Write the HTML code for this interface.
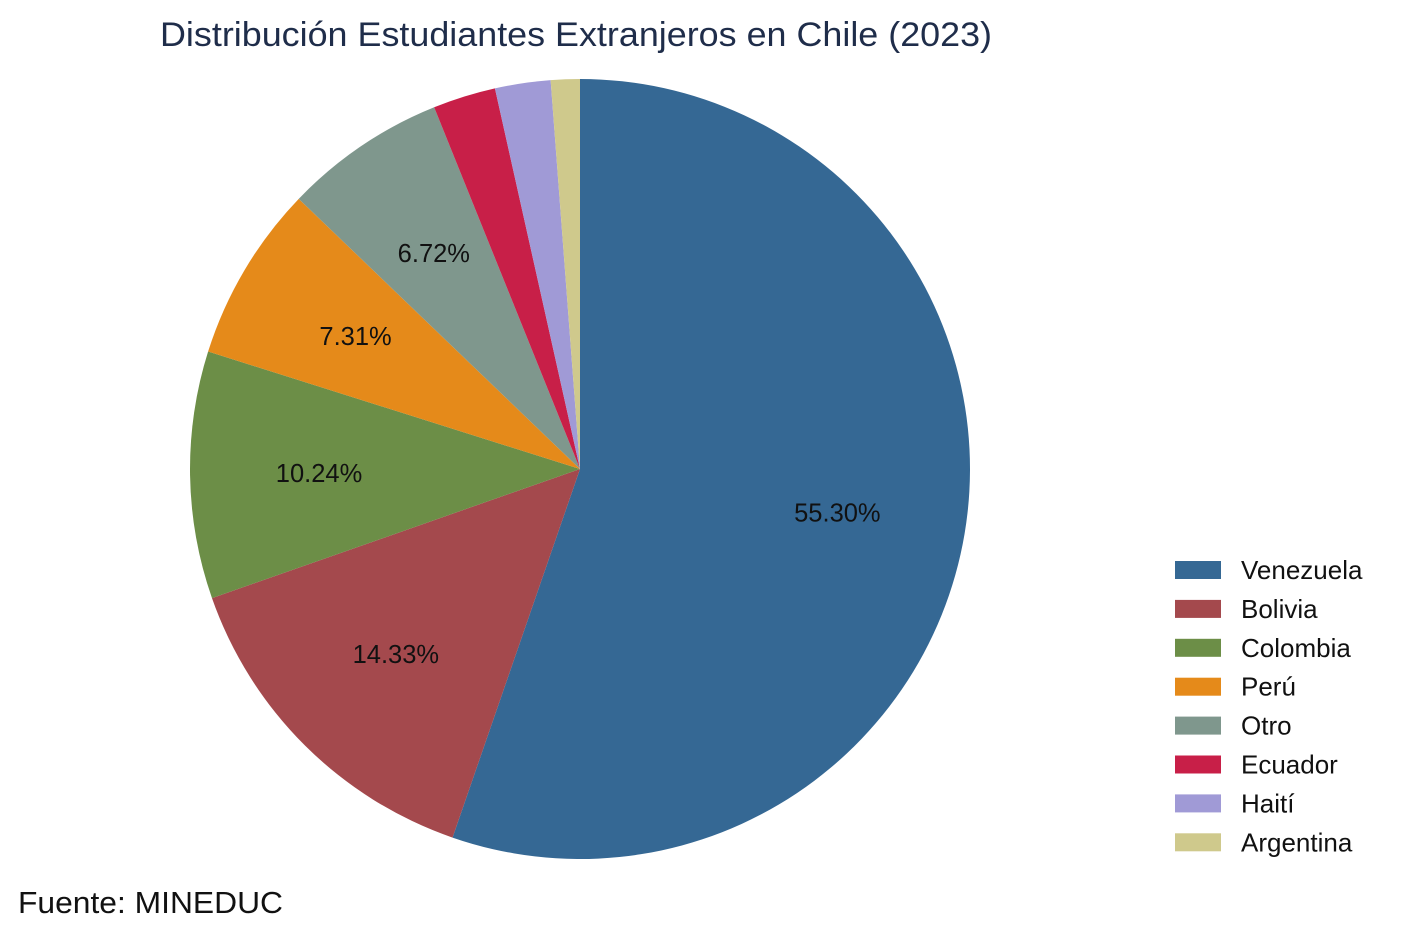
<!DOCTYPE html>
<html><head><meta charset="utf-8">
<style>
html,body{margin:0;padding:0;background:#fff;}
body{width:1404px;height:936px;overflow:hidden;font-family:"Liberation Sans",Arial,sans-serif;}
</style></head>
<body>
<svg id="chart" width="1404" height="936" viewBox="0 0 1404 936" xmlns="http://www.w3.org/2000/svg">
<text x="160" y="46" textLength="832" lengthAdjust="spacingAndGlyphs" font-size="34" fill="#1f2d4a" font-family="Liberation Sans, sans-serif">Distribución Estudiantes Extranjeros en Chile (2023)</text>
<g id="slices"></g>
<g id="labels"></g>
<g id="legend"></g>
<text x="18" y="913" textLength="265" lengthAdjust="spacingAndGlyphs" font-size="31" fill="#111" font-family="Liberation Sans, sans-serif">Fuente: MINEDUC</text>
</svg>
<script>
const categories = ["Venezuela","Bolivia","Colombia","Perú","Otro","Ecuador","Haití","Argentina"];
const values = [55.30,14.33,10.24,7.31,6.72,2.6,2.3,1.2];
const colors = ["#356894","#a4494d","#6c8e47","#e58a1a","#7f978d","#c81f48","#a09ad6","#cfc98c"];
const NS="http://www.w3.org/2000/svg";
const cx=580, cy=469, r=390, lr=261;
const total=values.reduce((a,b)=>a+b,0);
const gS=document.getElementById('slices'), gL=document.getElementById('labels'), gLeg=document.getElementById('legend');
function pt(a,rad){return [cx+rad*Math.sin(a), cy-rad*Math.cos(a)];}
let acc=0;
values.forEach((v,i)=>{
  const a0=acc/total*2*Math.PI; acc+=v; const a1=acc/total*2*Math.PI;
  const p0=pt(a0,r), p1=pt(a1,r);
  const large=(a1-a0)>Math.PI?1:0;
  const path=document.createElementNS(NS,'path');
  path.setAttribute('d',`M${cx},${cy} L${p0[0]},${p0[1]} A${r},${r} 0 ${large} 1 ${p1[0]},${p1[1]} Z`);
  path.setAttribute('fill',colors[i]);
  
  
  gS.appendChild(path);
  if(v/total>0.05){
    const m=pt((a0+a1)/2,lr);
    const t=document.createElementNS(NS,'text');
    t.setAttribute('x',m[0]);t.setAttribute('y',m[1]+9);
    t.setAttribute('text-anchor','middle');t.setAttribute('font-size','25.5');t.setAttribute('fill','#111');
    t.textContent=v.toFixed(2)+'%';
    
    
    gL.appendChild(t);
  }
  const y=570+i*38.9;
  const rc=document.createElementNS(NS,'rect');
  rc.setAttribute('x',1175);rc.setAttribute('y',y-9);rc.setAttribute('width',46);rc.setAttribute('height',18);rc.setAttribute('fill',colors[i]);
  
  
  gLeg.appendChild(rc);
  const lt=document.createElementNS(NS,'text');
  lt.setAttribute('x',1241);lt.setAttribute('y',y+9);lt.setAttribute('font-size','26');lt.setAttribute('fill','#111');
  lt.textContent=categories[i];
  
  
  gLeg.appendChild(lt);
});
</script>
</body></html>
